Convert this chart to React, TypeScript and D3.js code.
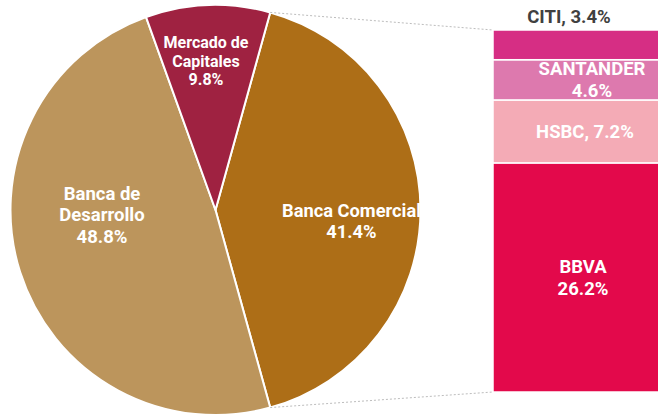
import React from "react";
import * as d3 from "d3";

const pieCategories = ["Banca Comercial", "Banca de Desarrollo", "Mercado de Capitales"];
const pieValues = [41.4, 48.8, 9.8];
const pieLabelLines = [["Banca Comercial", "41.4%"], ["Banca de", "Desarrollo", "48.8%"], ["Mercado de", "Capitales", "9.8%"]];
const pieColors = ["#AD6E17", "#BC955C", "#9F2241"];

const barCategories = ["BBVA", "HSBC", "SANTANDER", "CITI"];
const barValues = [26.2, 7.2, 4.6, 3.4];
const barLabelLines = [["BBVA", "26.2%"], ["HSBC, 7.2%"], ["SANTANDER", "4.6%"], ["CITI, 3.4%"]];
const barColors = ["#E3094B", "#F4ABB6", "#DD79AE", "#D62E84"];

const W = 658;
const H = 415;
const FONT = "Roboto, 'Noto Sans', sans-serif";

export default function App() {
  const cx = 215.5;
  const cy = 210;
  const r = 205;
  const total = d3.sum(pieValues);
  const comercialAngle = (pieValues[0] / total) * Math.PI * 2;
  const start = Math.PI / 2 - comercialAngle / 2;
  const pie = d3.pie<number>().sort(null).value((d) => d).startAngle(start).endAngle(start + Math.PI * 2);
  const arcs = pie(pieValues);
  const arcGen = d3.arc<d3.PieArcDatum<number>>().innerRadius(0).outerRadius(r);

  // label anchor positions (relative to centre), per slice
  const pieLabelPos: [number, number, number, number][] = [
    // dx, dy (middle of block), fontSize, lineHeight
    [136, 11, 18.3, 21.5],
    [-113.5, 5, 18.5, 21.5],
    [-9.5, -149, 16, 18.5],
  ];

  const barTotal = d3.sum(barValues);
  const barX0 = 493;
  const barX1 = 658;
  const y = d3.scaleLinear().domain([0, barTotal]).range([392, 30]);
  const stack = d3.stack<number[]>().keys(barCategories.map((_, i) => String(i))).value((d, k) => d[+k]);
  const series = stack([barValues]);

  const p1: [number, number] = [cx + r * Math.sin(arcs[0].startAngle), cy - r * Math.cos(arcs[0].startAngle)];
  const p2: [number, number] = [cx + r * Math.sin(arcs[0].endAngle), cy - r * Math.cos(arcs[0].endAngle)];

  const barLabelX = [583, 585, 592, 569];

  return (
    <svg width={W} height={H} style={{ position: "absolute", left: 0, top: 0, background: "#fff" }} fontFamily={FONT}>
      <g transform={`translate(${cx},${cy})`}>
        {arcs.map((a, i) => (
          <path key={pieCategories[i]} d={arcGen(a) || ""} fill={pieColors[i]} stroke="#fff" strokeWidth={2} strokeLinejoin="round" />
        ))}
        {arcs.map((a, i) => {
          const [dx, dy, fs, lh] = pieLabelPos[i];
          const lines = pieLabelLines[i];
          const top = dy - ((lines.length - 1) * lh) / 2;
          return (
            <text key={"l" + i} x={dx} textAnchor="middle" fill="#fff" fontWeight={700} fontSize={fs}>
              {lines.map((ln, j) => (
                <tspan key={j} x={dx} y={top + j * lh} dy="0.35em">
                  {ln}
                </tspan>
              ))}
            </text>
          );
        })}
      </g>
      <line x1={p1[0]} y1={p1[1]} x2={barX0} y2={y(barTotal)} stroke="#bdbdbd" strokeWidth={1} strokeDasharray="2,2" />
      <line x1={p2[0]} y1={p2[1]} x2={barX0} y2={y(0)} stroke="#bdbdbd" strokeWidth={1} strokeDasharray="2,2" />
      {series.map((s, i) => {
        const [v0, v1] = s[0];
        return (
          <rect key={barCategories[i]} x={barX0} y={y(v1)} width={barX1 - barX0 + 10} height={y(v0) - y(v1)} fill={barColors[i]} stroke="#fff" strokeWidth={1.5} />
        );
      })}
      {series.map((s, i) => {
        const [v0, v1] = s[0];
        const lines = barLabelLines[i];
        const lh = 22;
        const isOutside = barCategories[i] === "CITI";
        const mid = isOutside ? y(v1) - 13 : (y(v0) + y(v1)) / 2;
        const top = mid - ((lines.length - 1) * lh) / 2;
        return (
          <text key={"bl" + i} textAnchor="middle" fill={isOutside ? "#404040" : "#fff"} fontWeight={700} fontSize={18.5}>
            {lines.map((ln, j) => (
              <tspan key={j} x={barLabelX[i]} y={top + j * lh} dy="0.35em">
                {ln}
              </tspan>
            ))}
          </text>
        );
      })}
    </svg>
  );
}
